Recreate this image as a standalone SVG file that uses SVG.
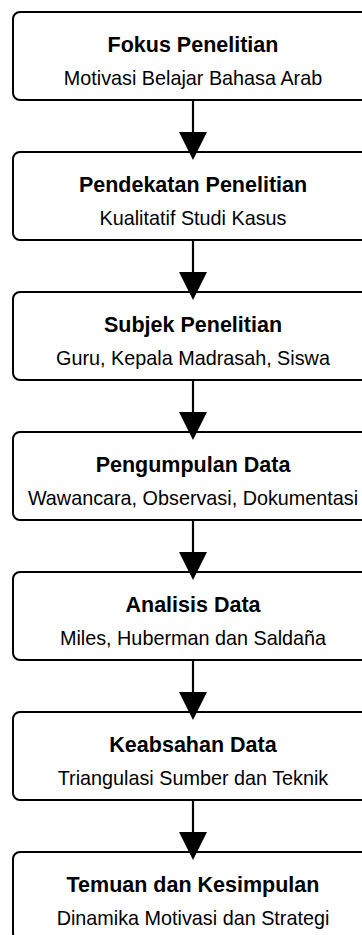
<svg xmlns="http://www.w3.org/2000/svg" width="362" height="935" viewBox="0 0 362 935">
  <style>
    .box { fill: #ffffff; stroke: #000000; stroke-width: 2; }
    .title { font-family: "Liberation Sans", Arial, sans-serif; font-weight: bold; font-size: 21.5px; fill: #000000; text-anchor: middle; }
    .sub { font-family: "Liberation Sans", Arial, sans-serif; font-size: 19.8px; fill: #000000; text-anchor: middle; }
    .conn { stroke: #000000; stroke-width: 2.2; fill: none; }
  </style>
  <defs>
    <marker id="arrow" markerUnits="userSpaceOnUse" markerWidth="28" markerHeight="28" viewBox="0 0 28 28" refX="0" refY="14" orient="auto">
      <path d="M0,0 L28,14 L0,28 Z" fill="#000000"/>
    </marker>
  </defs>
  <rect x="0" y="0" width="362" height="935" fill="#ffffff"/>
  <g id="node1">
    <rect class="box" x="13" y="12" width="360" height="88" rx="7"/>
    <text class="title" x="193" y="51.7">Fokus Penelitian</text>
    <text class="sub" x="193" y="85">Motivasi Belajar Bahasa Arab</text>
  </g>
  <g id="node2">
    <rect class="box" x="13" y="152" width="360" height="88" rx="7"/>
    <text class="title" x="193" y="191.7">Pendekatan Penelitian</text>
    <text class="sub" x="193" y="225">Kualitatif Studi Kasus</text>
  </g>
  <g id="node3">
    <rect class="box" x="13" y="292" width="360" height="88" rx="7"/>
    <text class="title" x="193" y="331.7">Subjek Penelitian</text>
    <text class="sub" x="193" y="365">Guru, Kepala Madrasah, Siswa</text>
  </g>
  <g id="node4">
    <rect class="box" x="13" y="432" width="360" height="88" rx="7"/>
    <text class="title" x="193" y="471.7">Pengumpulan Data</text>
    <text class="sub" x="193" y="505">Wawancara, Observasi, Dokumentasi</text>
  </g>
  <g id="node5">
    <rect class="box" x="13" y="572" width="360" height="88" rx="7"/>
    <text class="title" x="193" y="611.7">Analisis Data</text>
    <text class="sub" x="193" y="645">Miles, Huberman dan Saldaña</text>
  </g>
  <g id="node6">
    <rect class="box" x="13" y="712" width="360" height="88" rx="7"/>
    <text class="title" x="193" y="751.7">Keabsahan Data</text>
    <text class="sub" x="193" y="785">Triangulasi Sumber dan Teknik</text>
  </g>
  <g id="node7">
    <rect class="box" x="13" y="852" width="360" height="88" rx="7"/>
    <text class="title" x="193" y="891.7">Temuan dan Kesimpulan</text>
    <text class="sub" x="193" y="925">Dinamika Motivasi dan Strategi</text>
  </g>
  <g id="connectors">
    <line class="conn" x1="193" y1="101" x2="193" y2="132" marker-end="url(#arrow)"/>
    <line class="conn" x1="193" y1="241" x2="193" y2="272" marker-end="url(#arrow)"/>
    <line class="conn" x1="193" y1="381" x2="193" y2="412" marker-end="url(#arrow)"/>
    <line class="conn" x1="193" y1="521" x2="193" y2="552" marker-end="url(#arrow)"/>
    <line class="conn" x1="193" y1="661" x2="193" y2="692" marker-end="url(#arrow)"/>
    <line class="conn" x1="193" y1="801" x2="193" y2="832" marker-end="url(#arrow)"/>
  </g>
</svg>
